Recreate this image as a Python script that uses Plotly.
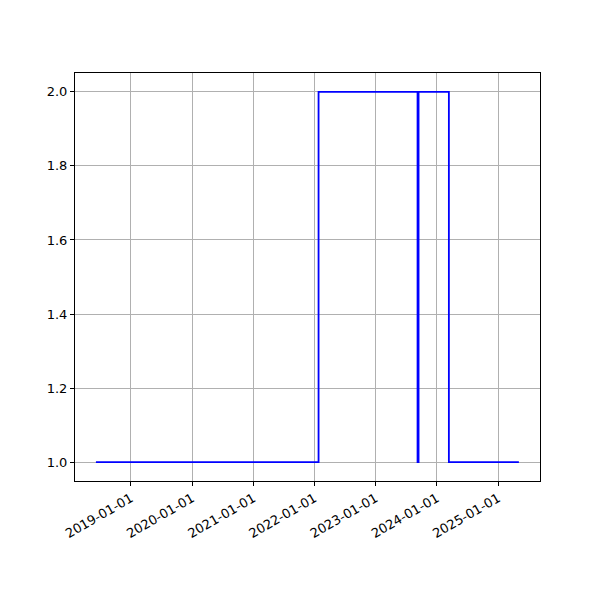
import plotly.graph_objects as go

dates = ["2018-06-06", "2022-01-25", "2023-09-08", "2023-09-14", "2024-03-13", "2025-05-05"]
values = [1, 2, 1, 2, 1, 1]
tick_dates = ["2019-01-01", "2020-01-01", "2021-01-01", "2022-01-01", "2023-01-01", "2024-01-01", "2025-01-01"]
y_ticks = [1.0, 1.2, 1.4, 1.6, 1.8, 2.0]

fig = go.Figure()
fig.add_trace(go.Scatter(x=dates, y=values, mode="lines", line=dict(color="blue", width=1.8, shape="hv"),
                         showlegend=False))

axis_common = dict(showline=True, linecolor="black", linewidth=1, mirror=True,
                   showgrid=True, gridcolor="#b0b0b0", gridwidth=0.8,
                   ticks="outside", ticklen=4, tickcolor="black", zeroline=False,
                   tickfont=dict(family="DejaVu Sans", size=13, color="black"))

fig.update_layout(
    width=600, height=600,
    margin=dict(l=67, r=68, t=65, b=127),
    paper_bgcolor="white", plot_bgcolor="white",
    xaxis=dict(type="date", range=["2018-02-01", "2025-09-08"], tickvals=tick_dates,
               ticktext=tick_dates, tickangle=-30, **axis_common),
    yaxis=dict(range=[0.949, 2.051], tickvals=y_ticks,
               ticktext=[f"{v:.1f}" for v in y_ticks], **axis_common),
)

fig.write_html("out.html")
